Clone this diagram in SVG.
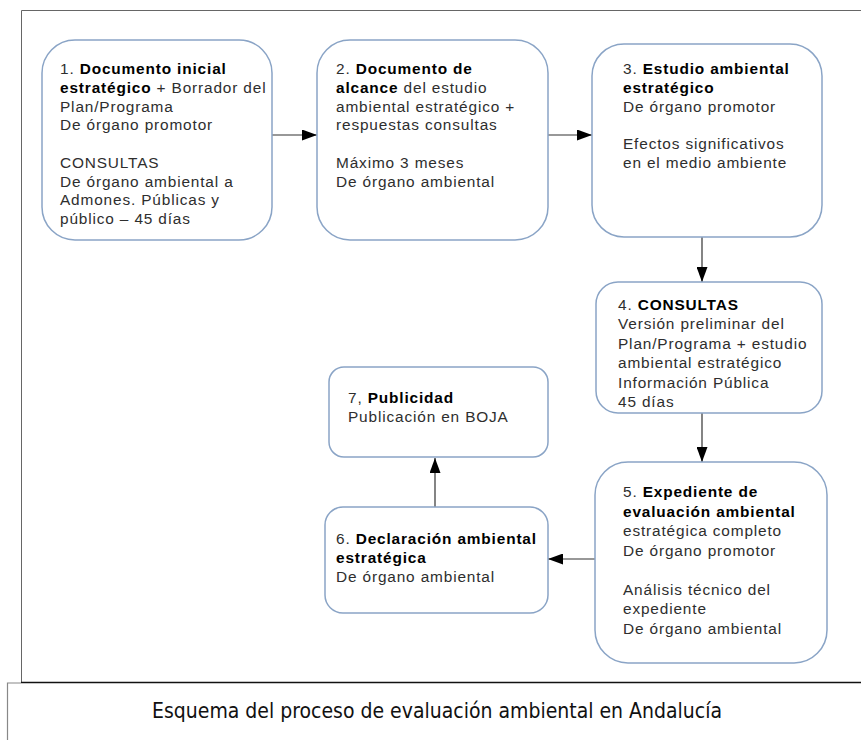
<svg xmlns="http://www.w3.org/2000/svg" width="861" height="740" viewBox="0 0 861 740">
<defs>
<style>
.node{fill:#ffffff;stroke:#8aa4c6;stroke-width:1.5}
.t{font-family:"Liberation Sans",Arial,sans-serif;font-size:15.4px;fill:#2e2e2e;letter-spacing:0.85px}
.b{font-weight:bold;fill:#000}
.conn{stroke:#333;stroke-width:1.2;fill:none}
.frame{fill:none;stroke:#666;stroke-width:1}
.cap{font-family:"Liberation Sans Narrow","DejaVu Sans Condensed","Liberation Sans",sans-serif;font-size:22px;fill:#111}
</style>
<marker id="ah" viewBox="0 0 15 11" refX="15" refY="5.5" markerWidth="15" markerHeight="11" markerUnits="userSpaceOnUse" orient="auto">
<path d="M0,0 L15,5.5 L0,11 Z" fill="#000"/>
</marker>
</defs>
<rect width="861" height="740" fill="#fff"/>
<g id="frame">
<path class="frame" d="M21.5,682.5 V10.5 H861"/>
<path d="M21,682.5 H861" stroke="#111" stroke-width="1.5"/>
<path d="M7.5,740 V683 H21" fill="none" stroke="#888" stroke-width="1.2"/>
</g>
<g id="connectors">
<line class="conn" x1="272" y1="135" x2="317" y2="135" marker-end="url(#ah)"/>
<line class="conn" x1="548" y1="135" x2="592" y2="135" marker-end="url(#ah)"/>
<line class="conn" x1="702" y1="237" x2="702" y2="282" marker-end="url(#ah)"/>
<line class="conn" x1="702" y1="413" x2="702" y2="462" marker-end="url(#ah)"/>
<line class="conn" x1="595" y1="559" x2="548" y2="559" marker-end="url(#ah)"/>
<line class="conn" x1="435" y1="507" x2="435" y2="458" marker-end="url(#ah)"/>
</g>
<g id="node1">
<rect class="node" x="42" y="40" width="230" height="200" rx="33"/>
<text class="t" x="60" y="74">1. <tspan class="b">Documento inicial</tspan></text>
<text class="t" x="60" y="92.8"><tspan class="b">estratégico</tspan> + Borrador del</text>
<text class="t" x="60" y="111.5">Plan/Programa</text>
<text class="t" x="60" y="130.3">De órgano promotor</text>
<text class="t" x="60" y="167.8">CONSULTAS</text>
<text class="t" x="60" y="186.5">De órgano ambiental a</text>
<text class="t" x="60" y="205.3">Admones. Públicas y</text>
<text class="t" x="60" y="224">público – 45 días</text>
</g>
<g id="node2">
<rect class="node" x="317" y="40" width="231" height="200" rx="33"/>
<text class="t" x="336" y="74">2. <tspan class="b">Documento de</tspan></text>
<text class="t" x="336" y="92.8"><tspan class="b">alcance</tspan> del estudio</text>
<text class="t" x="336" y="111.5">ambiental estratégico +</text>
<text class="t" x="336" y="130.3">respuestas consultas</text>
<text class="t" x="336" y="167.8">Máximo 3 meses</text>
<text class="t" x="336" y="186.5">De órgano ambiental</text>
</g>
<g id="node3">
<rect class="node" x="592" y="44" width="230" height="193" rx="32"/>
<text class="t" x="623" y="74">3. <tspan class="b">Estudio ambiental</tspan></text>
<text class="t" x="623" y="92.8"><tspan class="b">estratégico</tspan></text>
<text class="t" x="623" y="111.5">De órgano promotor</text>
<text class="t" x="623" y="149">Efectos significativos</text>
<text class="t" x="623" y="167.8">en el medio ambiente</text>
</g>
<g id="node4">
<rect class="node" x="596" y="282" width="226" height="131" rx="22"/>
<text class="t" x="618" y="309.5">4. <tspan class="b">CONSULTAS</tspan></text>
<text class="t" x="618" y="329">Versión preliminar del</text>
<text class="t" x="618" y="348.5">Plan/Programa + estudio</text>
<text class="t" x="618" y="368">ambiental estratégico</text>
<text class="t" x="618" y="387.5">Información Pública</text>
<text class="t" x="618" y="407">45 días</text>
</g>
<g id="node5">
<rect class="node" x="595" y="462" width="232" height="201" rx="33"/>
<text class="t" x="623" y="497">5. <tspan class="b">Expediente de</tspan></text>
<text class="t" x="623" y="516.5"><tspan class="b">evaluación ambiental</tspan></text>
<text class="t" x="623" y="536">estratégica completo</text>
<text class="t" x="623" y="555.5">De órgano promotor</text>
<text class="t" x="623" y="594.5">Análisis técnico del</text>
<text class="t" x="623" y="614">expediente</text>
<text class="t" x="623" y="633.5">De órgano ambiental</text>
</g>
<g id="node6">
<rect class="node" x="325" y="507" width="223" height="106" rx="18"/>
<text class="t" x="336" y="543.5">6. <tspan class="b">Declaración ambiental</tspan></text>
<text class="t" x="336" y="562.5"><tspan class="b">estratégica</tspan></text>
<text class="t" x="336" y="582">De órgano ambiental</text>
</g>
<g id="node7">
<rect class="node" x="329" y="367" width="219" height="90" rx="15"/>
<text class="t" x="348" y="403">7, <tspan class="b">Publicidad</tspan></text>
<text class="t" x="348" y="422">Publicación en BOJA</text>
</g>
<text class="cap" x="152" y="718" textLength="570" lengthAdjust="spacingAndGlyphs">Esquema del proceso de evaluación ambiental en Andalucía</text>
</svg>
